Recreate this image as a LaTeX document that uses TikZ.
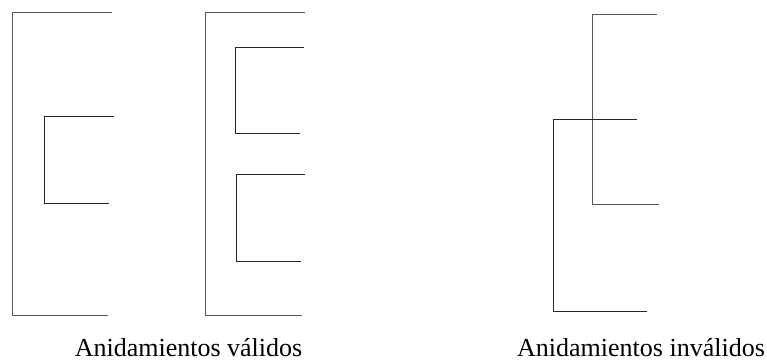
\documentclass[tikz,border=0pt]{standalone}
\usepackage{fontspec}
\setmainfont{Liberation Serif}
\usepackage{tikz}
\usetikzlibrary{positioning}

\tikzset{
  outer/.style={draw=black!65,line width=0.8pt},
  inner/.style={draw=black!85,line width=0.8pt},
  caption/.style={anchor=base,inner sep=0pt,font=\fontsize{26}{30}\selectfont}
}

\begin{document}
\begin{tikzpicture}[x=1pt,y=-1pt]
  \useasboundingbox (0,0) rectangle (767,363);

  % valid nestings
  \draw[outer] (112,12) -| (12,315) -- (108,315);
  \draw[inner] (114,116) -| (44,203) -- (109,203);

  \draw[outer] (305,12) -| (205,315) -- (302,315);
  \draw[inner] (304,47) -| (235,133) -- (300,133);
  \draw[inner] (305,174) -| (236,261) -- (301,261);

  % invalid nesting: the two brackets cross
  \draw[outer] (657,14) -| (592,204) -- (659,204);
  \draw[inner] (637,119) -| (553,311) -- (647,311);

  \path (188.5,356) node [caption] (valid) {Anidamientos válidos}
  (641,356) node [caption] (invalid) {Anidamientos inválidos};
\end{tikzpicture}
\end{document}
